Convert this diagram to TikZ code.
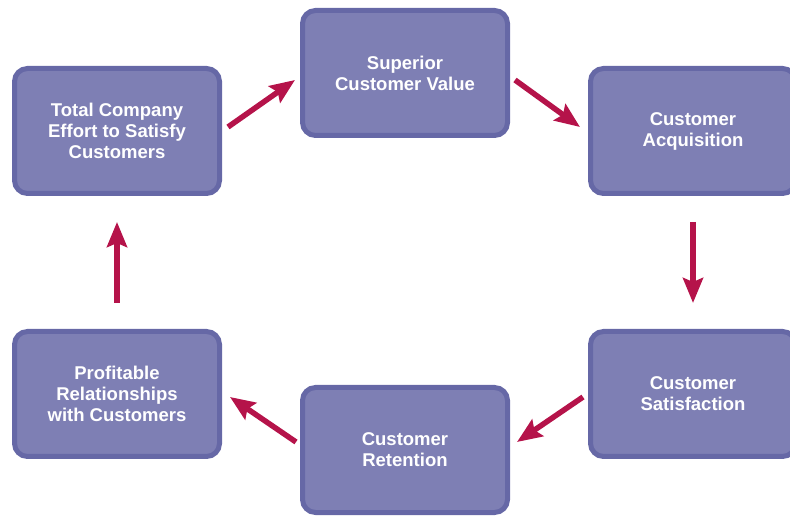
\documentclass[tikz,border=0pt]{standalone}
\usepackage{fontspec}
\setmainfont{Liberation Sans}
\usetikzlibrary{arrows.meta}
\definecolor{boxfill}{HTML}{7E7FB4}
\definecolor{boxline}{HTML}{6668A6}
\definecolor{arrowred}{HTML}{B5134A}
\begin{document}
\begin{tikzpicture}[x=1pt, y=1pt,
  stage/.style={draw=boxline, fill=boxfill, line width=5pt, rounded corners=13pt,
    minimum width=205pt, minimum height=125pt, align=center, text=white,
    font=\fontsize{18.5}{21}\selectfont\bfseries},
  flow/.style={draw=arrowred, line width=5.5pt, -{Stealth[length=25pt, width=20pt, inset=4pt]}}]
\clip (0,0) rectangle (790,517);

\node[stage] (effort) at (117,386) {Total Company\\Effort to Satisfy\\Customers};
\node[stage] (value) at (405,444) {Superior\\Customer Value};
\node[stage] (acquire) at (693,386) {Customer\\Acquisition};
\node[stage] (satisfy) at (693,123) {Customer\\Satisfaction};
\node[stage] (retain) at (405,67) {Customer\\Retention};
\node[stage] (profit) at (117,123) {Profitable\\Relationships\\with Customers};

\draw[flow] ([shift={(6,4)}]effort.east) -- ([shift={(-5,-7)}]value.west);
\draw[flow] ([shift={(5,-7)}]value.east) -- ([shift={(-8,4)}]acquire.west);
\draw[flow] ([yshift=-26]acquire.south) -- ([yshift=26]satisfy.north);
\draw[flow] ([shift={(-5,-3)}]satisfy.west) -- ([shift={(7,8)}]retain.east);
\draw[flow] ([shift={(-4,8)}]retain.west) -- ([shift={(8,-3)}]profit.east);
\draw[flow] ([yshift=26]profit.north) -- ([yshift=-26]effort.south);
\end{tikzpicture}
\end{document}
